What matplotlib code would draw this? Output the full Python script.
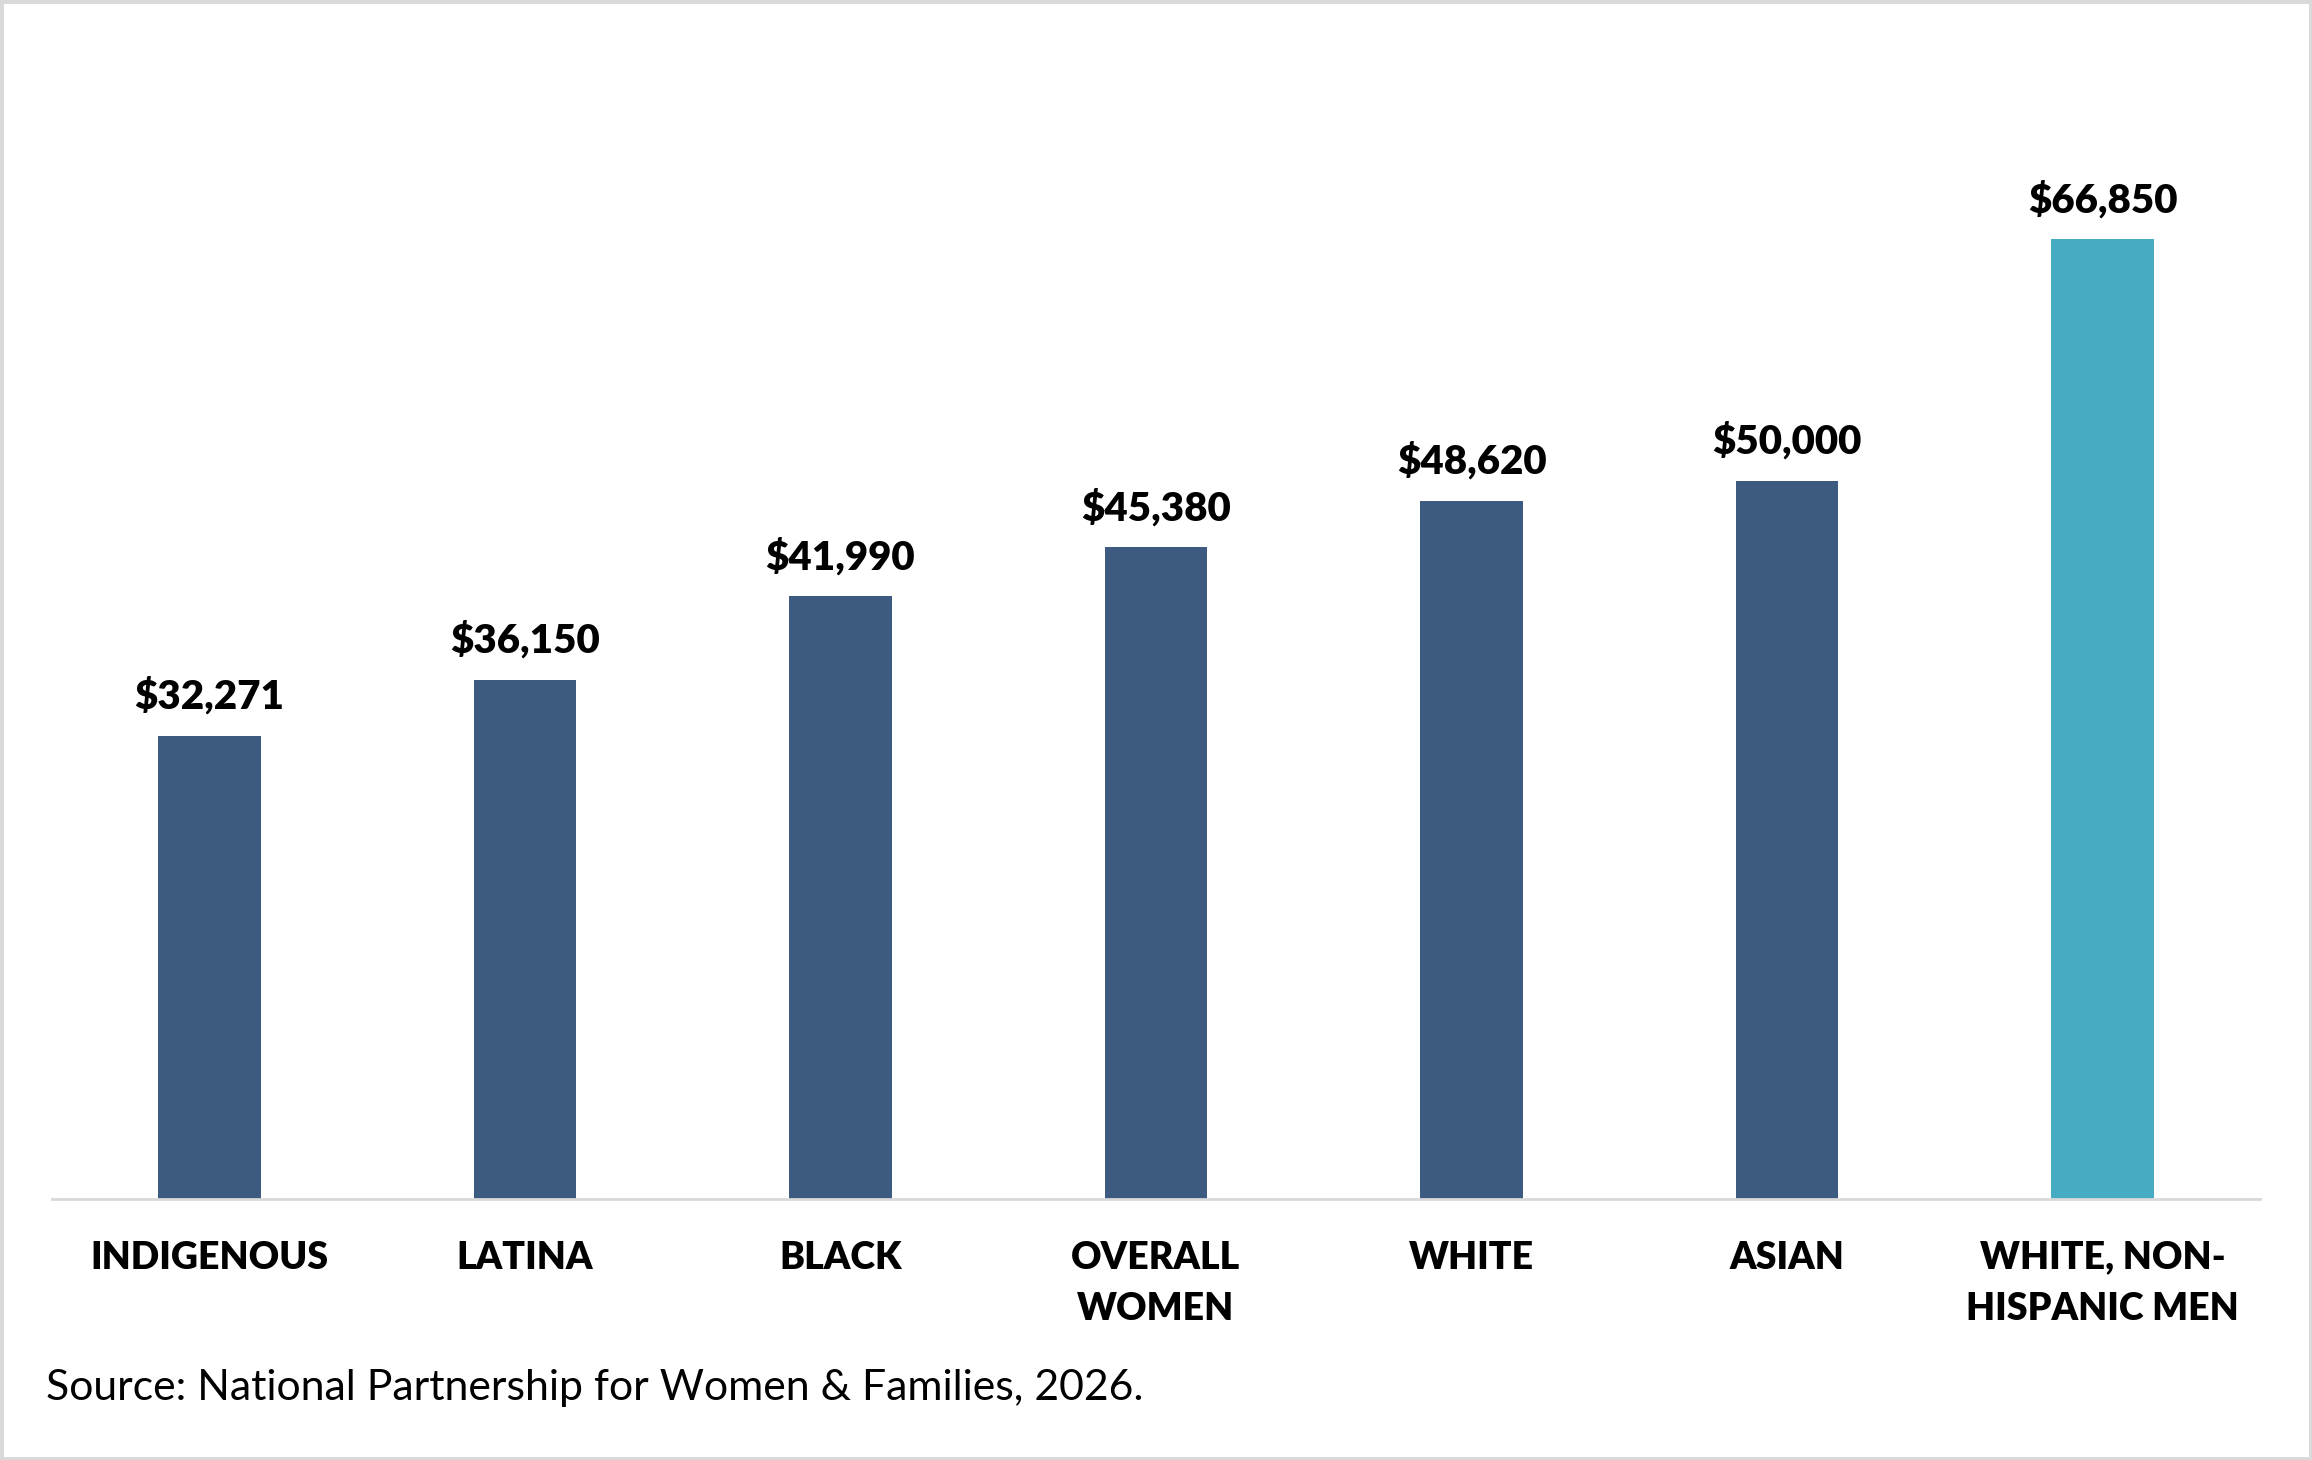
import matplotlib
matplotlib.use("Agg")
import matplotlib.pyplot as plt
from matplotlib.patches import Rectangle

categories = ["INDIGENOUS", "LATINA", "BLACK", "OVERALL\nWOMEN", "WHITE", "ASIAN", "WHITE, NON-\nHISPANIC MEN"]
earnings = [32271, 36150, 41990, 45380, 48620, 50000, 66850]
value_labels = ["$32,271", "$36,150", "$41,990", "$45,380", "$48,620", "$50,000", "$66,850"]
source_note = "Source: National Partnership for Women & Families, 2026."

dark = "#3D5B80"
light = "#47ACC2"
bar_colors = [dark] * 6 + [light]

plt.rcParams["font.family"] = ["Lato", "DejaVu Sans"]

fig = plt.figure(figsize=(11.56, 7.3), dpi=200)
ax = fig.add_axes([0.0223, 0.1788, 0.9554, 0.7376])

x = range(len(categories))
bars = ax.bar(x, earnings, width=0.325, color=bar_colors)

for b, lab in zip(bars, value_labels):
    ax.annotate(lab, (b.get_x() + b.get_width() / 2, b.get_height()),
                xytext=(0, 9.7), textcoords="offset points",
                ha="center", va="baseline", fontsize=14.5, fontweight="heavy", color="black")

ax.set_xlim(-0.5, len(categories) - 0.5)
ax.set_ylim(0, 75000)
ax.set_xticks(list(x))
ax.set_xticklabels(categories, fontsize=13.5, fontweight="heavy", linespacing=1.62)
ax.tick_params(axis="x", length=0, pad=15)
ax.set_yticks([])
for s in ["top", "right", "left"]:
    ax.spines[s].set_visible(False)
ax.spines["bottom"].set_color("#D9D9D9")
ax.spines["bottom"].set_linewidth(1.0)

fig.text(0.0198, 0.041, source_note, fontsize=15.4, color="black", ha="left", va="baseline")

fig.patches.append(Rectangle((0, 0), 1, 1, transform=fig.transFigure, fill=False,
                             edgecolor="#D9D9D9", linewidth=2.5))

fig.savefig("out.png", dpi=200)
